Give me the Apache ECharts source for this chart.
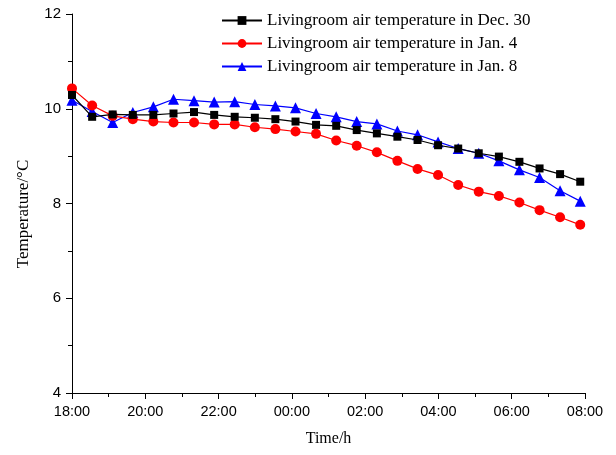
<!DOCTYPE html>
<html>
<head>
<meta charset="utf-8">
<script src="https://cdn.jsdelivr.net/npm/echarts@6/dist/echarts.min.js"></script>
<style>html,body{margin:0;padding:0;background:#fff;}#c{width:616px;height:455px;}</style>
</head>
<body>
<div id="c"></div>
<script>
// hours since 18:00 of the previous day (24 = 00:00)
const times = [18.00, 18.55, 19.11, 19.66, 20.22, 20.77, 21.33, 21.88, 22.44, 22.99, 23.55, 24.10, 24.66, 25.21, 25.77, 26.32, 26.88, 27.43, 27.99, 28.54, 29.10, 29.65, 30.21, 30.76, 31.32, 31.87];
const dec30 = [10.29, 9.83, 9.88, 9.87, 9.87, 9.90, 9.93, 9.87, 9.83, 9.81, 9.78, 9.73, 9.66, 9.64, 9.55, 9.48, 9.41, 9.34, 9.23, 9.16, 9.06, 8.99, 8.88, 8.74, 8.62, 8.46];
const jan4  = [10.43, 10.07, 9.85, 9.78, 9.73, 9.71, 9.71, 9.67, 9.67, 9.61, 9.57, 9.52, 9.47, 9.33, 9.22, 9.08, 8.90, 8.73, 8.60, 8.39, 8.25, 8.16, 8.02, 7.86, 7.71, 7.55];
const jan8  = [10.18, 9.94, 9.71, 9.92, 10.04, 10.20, 10.17, 10.14, 10.15, 10.09, 10.06, 10.02, 9.90, 9.83, 9.73, 9.68, 9.53, 9.45, 9.30, 9.16, 9.06, 8.90, 8.71, 8.55, 8.27, 8.05];
const endTime = 31.95;
const endValues = [8.45, 7.53, 7.98];
const names = ['Livingroom air temperature in Dec. 30', 'Livingroom air temperature in Jan. 4', 'Livingroom air temperature in Jan. 8'];
const xTicks = ['18:00','20:00','22:00','00:00','02:00','04:00','06:00','08:00'];
const yTicks = [4, 6, 8, 10, 12];
const yTitle = 'Temperature/°C';

function build(vals, endV) {
  const d = times.map((t, i) => [t, vals[i]]);
  d.push({ value: [endTime, endV], symbol: 'none' });
  return d;
}
const colors = ['#000000', '#ff0000', '#0000ff'];
const symbols = ['rect', 'circle', 'triangle'];
const sizes = [8, 10, 11];
const sets = [dec30, jan4, jan8];

const chart = echarts.init(document.getElementById('c'));
chart.setOption({
  animation: false,
  backgroundColor: '#fff',
  grid: { left: 72, right: 31, top: 14, bottom: 62 },
  legend: {
    orient: 'vertical', left: 221, top: 12, padding: 0, itemWidth: 40, itemHeight: 11, itemGap: 6,
    textStyle: { fontFamily: 'Liberation Serif', fontSize: 17, color: '#000' },
    data: names
  },
  graphic: [{
    type: 'text', x: 24, y: 214, rotation: Math.PI / 2,
    style: { text: yTitle, fontFamily: 'Liberation Serif', fontSize: 17, fill: '#000', align: 'center', verticalAlign: 'middle' }
  }],
  xAxis: {
    type: 'value', min: 18, max: 32, interval: 2,
    name: 'Time/h', nameLocation: 'middle', nameGap: 38,
    nameTextStyle: { fontFamily: 'Liberation Serif', fontSize: 16, color: '#000' },
    axisLine: { lineStyle: { color: '#000', width: 1 } },
    axisTick: { inside: false, length: 6, lineStyle: { color: '#000' } },
    minorTick: { show: true, splitNumber: 2, length: 4, lineStyle: { color: '#000' } },
    splitLine: { show: false },
    axisLabel: {
      fontFamily: 'Liberation Sans', fontSize: 14.5, color: '#000', margin: 11,
      formatter: v => xTicks[Math.round((v - 18) / 2)]
    }
  },
  yAxis: {
    type: 'value', min: 4, max: 12, interval: 2,
    axisLine: { show: true, lineStyle: { color: '#000', width: 1 } },
    axisTick: { show: true, inside: false, length: 6, lineStyle: { color: '#000' } },
    minorTick: { show: true, splitNumber: 2, length: 4, lineStyle: { color: '#000' } },
    splitLine: { show: false },
    axisLabel: {
      fontFamily: 'Liberation Sans', fontSize: 15, color: '#000', margin: 11,
      formatter: v => (yTicks.includes(v) ? String(v) : '')
    }
  },
  series: sets.map((vals, k) => ({
    name: names[k], type: 'line', data: build(vals, endValues[k]),
    symbol: symbols[k], symbolSize: sizes[k], showSymbol: true,
    lineStyle: { color: colors[k], width: 1.2 },
    itemStyle: { color: colors[k] },
    z: 3 - k
  }))
});
</script>
</body>
</html>
